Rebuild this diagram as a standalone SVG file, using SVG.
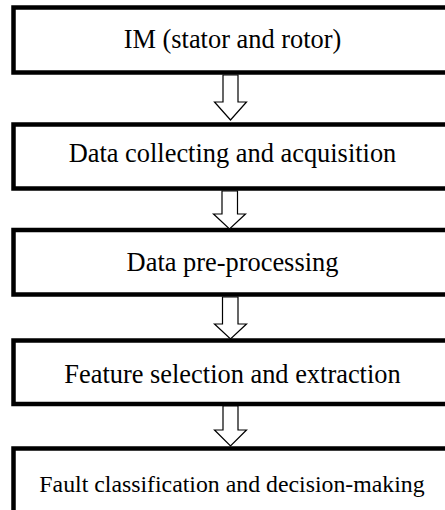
<svg xmlns="http://www.w3.org/2000/svg" width="445" height="510" viewBox="0 0 445 510">
<style>
.box{fill:#fff;stroke:#000;stroke-width:4.5}
.lbl{font-family:"Liberation Serif","Times New Roman",serif;font-size:26.4px;fill:#000;text-anchor:middle}
.arr{fill:#fff;stroke:#000;stroke-width:1.2;stroke-linejoin:miter}
</style>
<rect width="445" height="510" fill="#fff"/>
<g id="n1"><rect class="box" x="13.5" y="7.5" width="450" height="65"/><text class="lbl" x="232.5" y="48">IM (stator and rotor)</text></g>
<g id="n2"><rect class="box" x="13.5" y="124.5" width="450" height="64"/><text class="lbl" x="232.5" y="161.5">Data collecting and acquisition</text></g>
<g id="n3"><rect class="box" x="13.5" y="230" width="450" height="64.5"/><text class="lbl" x="232.5" y="270.5">Data pre-processing</text></g>
<g id="n4"><rect class="box" x="13.5" y="340.5" width="450" height="63.5"/><text class="lbl" x="232.5" y="383">Feature selection and extraction</text></g>
<g id="n5"><rect class="box" x="13.5" y="448.5" width="450" height="80"/><text class="lbl" x="232" y="492" style="font-size:23.8px">Fault classification and decision-making</text></g>
<g id="connectors">
<polygon class="arr" points="223,75 238,75 238,102 246.5,102 230.5,120 214.5,102 223,102"/>
<polygon class="arr" points="222,191 237.5,191 237.5,214 245.5,214 229.5,229 213.5,214 222,214"/>
<polygon class="arr" points="222.5,297 238,297 238,324 246.5,324 230.5,339 214.5,324 222.5,324"/>
<polygon class="arr" points="223,406 238,406 238,430 246.5,430 230.5,446 214.5,430 223,430"/>
</g>
</svg>
